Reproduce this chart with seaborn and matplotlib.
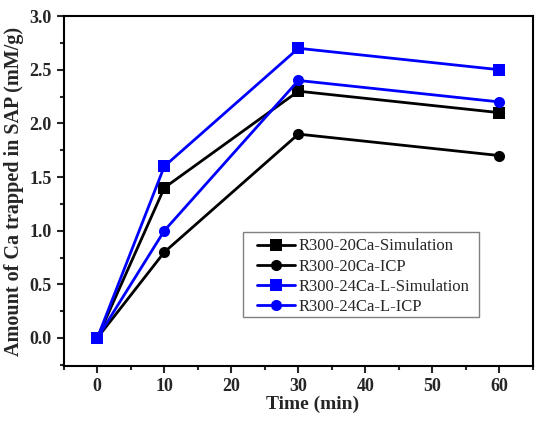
import pandas as pd
import matplotlib
matplotlib.use('Agg')
import matplotlib.pyplot as plt
import seaborn as sns
from matplotlib.patches import Rectangle
from matplotlib.ticker import MultipleLocator, FormatStrFormatter

# data
time_min = [0, 10, 30, 60]
sim_20ca = [0.0, 1.4, 2.3, 2.1]
icp_20ca = [0.0, 0.8, 1.9, 1.7]
sim_24ca = [0.0, 1.6, 2.7, 2.5]
icp_24ca = [0.0, 1.0, 2.4, 2.2]
series_names = ['R300-20Ca-Simulation', 'R300-20Ca-ICP',
                'R300-24Ca-L-Simulation', 'R300-24Ca-L-ICP']

df = pd.DataFrame({
    'Time': time_min * 4,
    'Amount': sim_20ca + icp_20ca + sim_24ca + icp_24ca,
    'Series': [n for n in series_names for _ in time_min],
})

sns.set_style('ticks')
plt.rcParams['font.family'] = ['Liberation Serif', 'DejaVu Serif']

fig = plt.figure(figsize=(5.5, 4.23), dpi=100)
ax = fig.add_axes([0.116, 0.135, 0.853, 0.827])

palette = {series_names[0]: 'black', series_names[1]: 'black',
           series_names[2]: '#0000ff', series_names[3]: '#0000ff'}
markers = {series_names[0]: 's', series_names[1]: 'o',
           series_names[2]: 's', series_names[3]: 'o'}

sns.lineplot(data=df, x='Time', y='Amount', hue='Series', style='Series',
             palette=palette, markers=markers, dashes=False, markersize=8,
             linewidth=2, markeredgewidth=0, hue_order=series_names,
             style_order=series_names, ax=ax)

ax.set_xlim(-5, 65)
ax.set_ylim(-0.26, 3.0)
ax.xaxis.set_major_locator(MultipleLocator(10))
ax.xaxis.set_minor_locator(MultipleLocator(5))
ax.yaxis.set_major_locator(MultipleLocator(0.5))
ax.yaxis.set_minor_locator(MultipleLocator(0.25))
ax.yaxis.set_major_formatter(FormatStrFormatter('%.1f'))
ax.tick_params(which='major', direction='out', length=5, width=1.5, labelsize=13)
ax.tick_params(which='minor', direction='out', length=3, width=1.5)
for lab in ax.get_xticklabels() + ax.get_yticklabels():
    lab.set_fontweight('bold')
for s in ax.spines.values():
    s.set_linewidth(1.5)
    s.set_color('black')

ax.set_xlabel('Time (min)', fontsize=14, fontweight='bold')
ax.xaxis.set_label_coords(0.53, -0.085)
ax.set_ylabel('Amount of Ca trapped in SAP (mM/g)', fontsize=14.5, fontweight='bold')

# legend without its own frame; the box is drawn separately (wider left/right padding)
leg = ax.legend(loc='upper left', bbox_to_anchor=(0.458, 0.448),
                bbox_transform=fig.transFigure, fontsize=12,
                frameon=False, handlelength=2.3, borderpad=0.3,
                labelspacing=0.25, handletextpad=0.2, borderaxespad=0)
fig.patches.append(Rectangle((0.4418, 0.2506), 0.429, 0.201,
                             transform=fig.transFigure, fill=False,
                             edgecolor='gray', linewidth=1, zorder=5))

fig.savefig('out.png', dpi=100)
